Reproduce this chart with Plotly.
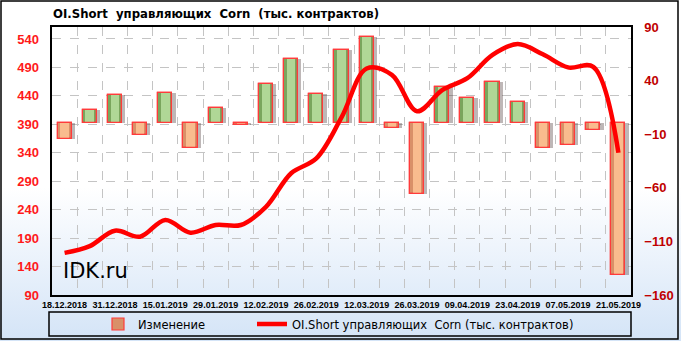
import plotly.graph_objects as go

# ---------------- data ----------------
dates = ["18.12.2018", "25.12.2018", "31.12.2018", "08.01.2019", "15.01.2019",
         "22.01.2019", "29.01.2019", "05.02.2019", "12.02.2019", "19.02.2019",
         "26.02.2019", "05.03.2019", "12.03.2019", "19.03.2019", "26.03.2019",
         "02.04.2019", "09.04.2019", "16.04.2019", "23.04.2019", "30.04.2019",
         "07.05.2019", "14.05.2019", "21.05.2019"]
change = [-14.5, 12.5, 26.5, -10.5, 28, -22.5, 14, -1.5, 37, 60,
          27.5, 68.5, 81, -4, -66, 34, 23.5, 39, 20.5, -23,
          -20, -6, -141.5]
oi_short = [164, 176, 203, 192.5, 222, 199.5, 213, 213, 245, 304,
            330, 402, 488, 477, 413, 450, 471, 512, 531, 513,
            490, 491, 340]
left_ticks = [90, 140, 190, 240, 290, 340, 390, 440, 490, 540]
right_ticks = [-160, -110, -60, -10, 40, 90]

title = "OI.Short\u00a0 управляющих\u00a0 Corn\u00a0 (тыс. контрактов)"
line_name = "OI.Short управляющих\u00a0 Corn (тыс. контрактов)"

W, H = 681, 341
n = len(dates)
xs = list(range(n))

xd = [52 / W, 631 / W]
yd = [(H - 295) / H, (H - 27) / H]

outer_col = ["#7aa55d" if v >= 0 else "#d99068" for v in change]
inner_col = ["#b0d796" if v >= 0 else "#f9bc8e" for v in change]

fig = go.Figure()

# background gradient (whole paper)
fig.add_trace(go.Scatter(
    x=[0, 1, 1, 0, 0], y=[0, 0, 1, 1, 0], fill="toself", mode="none",
    fillgradient=dict(type="vertical",
                      colorscale=[[0, "#d4e4f7"], [0.45, "#ffffff"], [1, "#ffffff"]]),
    xaxis="x", yaxis="y", hoverinfo="skip", showlegend=False))

# bar shadow
fig.add_trace(go.Bar(
    x=xs, y=change, width=0.56, offset=-0.28 + 0.13,
    marker=dict(color="rgba(70,50,50,0.35)", line=dict(width=0)),
    xaxis="x2", yaxis="y2", showlegend=False, hoverinfo="skip"))
# bars (outer, darker)
fig.add_trace(go.Bar(
    x=xs, y=change, width=0.56, name="Изменение", legend="legend",
    marker=dict(color=outer_col, line=dict(color="#ff3b3b", width=1.2)),
    xaxis="x2", yaxis="y2"))
# bar highlight
fig.add_trace(go.Bar(
    x=xs, y=change, width=0.34,
    marker=dict(color=inner_col, line=dict(width=0)),
    xaxis="x2", yaxis="y2", showlegend=False, hoverinfo="skip"))
# bar outline on top
fig.add_trace(go.Bar(
    x=xs, y=change, width=0.56,
    marker=dict(color="rgba(0,0,0,0)", line=dict(color="#ff3b3b", width=1.2)),
    xaxis="x2", yaxis="y2", showlegend=False, hoverinfo="skip"))

# line
fig.add_trace(go.Scatter(
    x=xs, y=oi_short, mode="lines", name=line_name, legend="legend2",
    line=dict(color="#ff0000", width=4.5, shape="spline", smoothing=1.0),
    xaxis="x2", yaxis="y3"))

grid_col = "#c4c4c4"
leg_font = dict(family="DejaVu Sans", size=11.5, color="#000000")

fig.update_layout(
    width=W, height=H,
    margin=dict(l=0, r=0, t=0, b=0, autoexpand=False),
    paper_bgcolor="#ffffff",
    plot_bgcolor="rgba(0,0,0,0)",
    barmode="overlay",
    bargap=0,
    title=dict(text="<b>" + title + "</b>", x=53 / W, xanchor="left",
               y=(H - 14) / H, yanchor="middle", xref="paper", yref="paper",
               pad=dict(l=0, r=0, t=0, b=0),
               font=dict(family="DejaVu Sans", size=11.7, color="#000000")),
    xaxis=dict(domain=[0, 1], range=[0, 1], visible=False, fixedrange=True,
               automargin=False),
    yaxis=dict(domain=[0, 1], range=[0, 1], visible=False, fixedrange=True,
               automargin=False),
    xaxis2=dict(domain=xd, anchor="y2", range=[-0.5, n - 0.5], automargin=False,
                tickmode="array", tickvals=xs[::2], ticktext=dates[::2],
                showgrid=False, zeroline=False,
                showline=True, linecolor="#000000", linewidth=1.5, mirror=True,
                ticks="", ticklabelstandoff=0,
                tickfont=dict(family="Liberation Sans", size=9, color="#000000", weight="bold"),
                minor=dict(tick0=0.5, dtick=1, showgrid=True, gridcolor=grid_col,
                           griddash="dash", gridwidth=1, ticks="")),
    yaxis2=dict(domain=yd, anchor="x2", side="right", range=[-160, 90], automargin=False,
                tickmode="array", tickvals=right_ticks,
                showgrid=False, zeroline=False,
                showline=True, linecolor="#000000", linewidth=1.5, mirror=True,
                ticks="", ticklabelstandoff=9,
                tickfont=dict(family="Liberation Sans", size=13, color="#c00000", weight="bold")),
    yaxis3=dict(overlaying="y2", anchor="x2", side="left", range=[90, 561], automargin=False,
                tickmode="array", tickvals=left_ticks,
                showgrid=True, gridcolor=grid_col, griddash="dash", gridwidth=1,
                zeroline=False, showline=False,
                ticks="", ticklabelstandoff=12,
                tickfont=dict(family="Liberation Sans", size=13, color="#ff1a1a", weight="bold")),
    legend=dict(x=98 / W, y=(H - 324) / H, xanchor="left", yanchor="middle",
                bgcolor="rgba(0,0,0,0)", font=leg_font, borderwidth=0),
    legend2=dict(x=252 / W, y=(H - 324) / H, xanchor="left", yanchor="middle",
                 bgcolor="rgba(0,0,0,0)", font=leg_font, borderwidth=0),
    shapes=[
        dict(type="rect", xref="paper", yref="paper",
             x0=49 / W, x1=631 / W, y0=(H - 336) / H, y1=(H - 312) / H,
             line=dict(color="#000000", width=1.5), fillcolor="rgba(0,0,0,0)"),
        dict(type="rect", xref="paper", yref="paper",
             x0=1 / W, x1=678 / W, y0=(H - 339) / H, y1=(H - 1) / H,
             line=dict(color="#000000", width=1.5), fillcolor="rgba(0,0,0,0)"),
    ],
    annotations=[
        dict(text="IDK.ru", xref="paper", yref="paper", x=61 / W, y=(H - 271) / H,
             xanchor="left", yanchor="middle", showarrow=False,
             font=dict(family="DejaVu Sans", size=21, color="#000000")),
    ],
    showlegend=True,
)

fig.write_html("out.html")
